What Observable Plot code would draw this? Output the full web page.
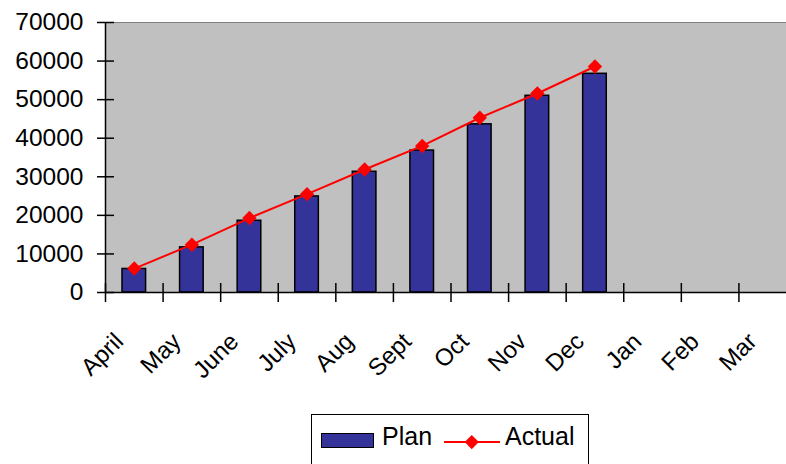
<!DOCTYPE html>
<html>
<head>
<meta charset="utf-8">
<script src="https://cdn.jsdelivr.net/npm/d3@7"></script>
<script src="https://cdn.jsdelivr.net/npm/@observablehq/plot@0.6"></script>
<style>
  html, body { margin: 0; padding: 0; background: #fff; overflow: hidden; }
  #chart { position: relative; width: 786px; height: 464px; font-family: "Liberation Sans", Arial, sans-serif; color: #000; }
  #chart svg { display: block; }
  .legend { position: absolute; left: 311px; top: 414px; width: 278px; height: 70px; border: 1px solid #000; box-sizing: border-box; background: #fff; }
  .legend .swatch { position: absolute; left: 9px; top: 18px; width: 53px; height: 15px; background: #333399; border: 1.5px solid #000; box-sizing: border-box; }
  .legend .label { position: absolute; top: 9px; font-size: 25px; line-height: 25px; white-space: nowrap; }
  .legend .line { position: absolute; left: 132px; top: 26px; width: 56px; height: 2px; background: #ff0000; }
  .legend .diamond { position: absolute; left: 155px; top: 22px; width: 9.5px; height: 9.5px; background: #ff0000; transform: rotate(45deg); }
</style>
</head>
<body>
<div id="chart"></div>
<script>
// Fiscal-year months, April to March
const months = ["April", "May", "June", "July", "Aug", "Sept", "Oct", "Nov", "Dec", "Jan", "Feb", "Mar"];
// Cumulative plan and actual figures (no data yet for Jan–Mar)
const plan = [6100, 11700, 18600, 24900, 31300, 36800, 43600, 51000, 56700, null, null, null];
const actual = [6200, 12400, 19300, 25500, 31900, 38000, 45300, 51600, 58600, null, null, null];
// Value-axis ticks
const yTicks = [0, 10000, 20000, 30000, 40000, 50000, 60000, 70000];

const rows = months.map((month, i) => ({i, month, plan: plan[i], actual: actual[i]}));
const planRows = rows.filter(d => d.plan != null);
const actualRows = rows.filter(d => d.actual != null);

const chart = Plot.plot({
  width: 786,
  height: 400,
  marginLeft: 105,
  marginRight: -10,
  marginTop: 22,
  marginBottom: 108,
  style: {fontFamily: "'Liberation Sans', Arial, sans-serif", fontSize: "24px", color: "#000", background: "transparent", overflow: "hidden"},
  x: {type: "linear", domain: [0, months.length]},
  y: {domain: [0, 70000]},
  marks: [
    Plot.frame({fill: "#c0c0c0", stroke: "#808080"}),
    Plot.rectY(planRows, {x1: d => d.i + 0.295, x2: d => d.i + 0.705, y: "plan", fill: "#333399", stroke: "#000", strokeWidth: 1.5}),
    Plot.ruleX([0], {stroke: "#000", strokeWidth: 1.5}),
    Plot.ruleY([0], {stroke: "#000", strokeWidth: 1.5}),
    // category boundary ticks crossing the x axis
    Plot.axisX(d3.range(months.length + 1), {tickSize: 19, dy: -9, strokeWidth: 1.5, tickFormat: () => ""}),
    // month labels centred in each category
    Plot.axisX(d3.range(months.length).map(i => i + 0.5), {
      tickSize: 0, tickRotate: -45, tickPadding: 45, dx: -15,
      textAnchor: "end", lineAnchor: "middle",
      tickFormat: v => months[Math.floor(v)], fontSize: 24, fill: "#000"
    }),
    Plot.axisY(yTicks, {tickSize: 17, dx: 9, tickPadding: 14, strokeWidth: 1.5, tickFormat: d3.format("d"), fontSize: 24.5, fill: "#000"}),
    Plot.line(actualRows, {x: d => d.i + 0.5, y: "actual", stroke: "#ff0000", strokeWidth: 2}),
    Plot.dot(actualRows, {x: d => d.i + 0.5, y: "actual", symbol: "diamond2", r: 6.5, fill: "#ff0000"})
  ]
});

const root = document.getElementById("chart");
root.appendChild(chart);

const legend = document.createElement("div");
legend.className = "legend";
legend.innerHTML =
  '<div class="swatch"></div><span class="label" style="left:70px">Plan</span>' +
  '<div class="line"></div><div class="diamond"></div><span class="label" style="left:193px">Actual</span>';
root.appendChild(legend);
</script>
</body>
</html>
